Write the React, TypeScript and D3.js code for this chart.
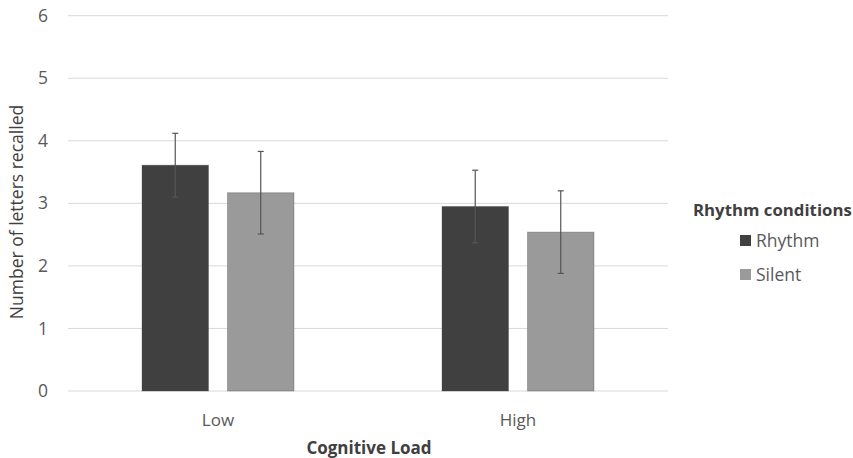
import React from "react";
import * as d3 from "d3";

const categories = ["Low", "High"];
const seriesNames = ["Rhythm", "Silent"];
const rhythmValues = [3.61, 2.95];
const silentValues = [3.17, 2.54];
const rhythmErrors = [0.51, 0.58];
const silentErrors = [0.66, 0.66];
const yTicks = [0, 1, 2, 3, 4, 5, 6];
const colors = ["#404040", "#9a9a9a"];

const W = 853;
const H = 458;
const FONT = "'Open Sans', 'Liberation Sans', sans-serif";

export default function App() {
  const x0 = d3.scaleBand().domain(categories).range([68, 668]).paddingInner(0).paddingOuter(0);
  const innerPad = 74;
  const x1 = d3
    .scaleBand()
    .domain(seriesNames)
    .range([innerPad, x0.bandwidth() - innerPad])
    .paddingInner(0.222);
  const y = d3.scaleLinear().domain([0, 6]).range([391, 15.7]);

  const series = [
    { name: seriesNames[0], values: rhythmValues, errors: rhythmErrors, color: colors[0] },
    { name: seriesNames[1], values: silentValues, errors: silentErrors, color: colors[1] },
  ];

  return (
    <svg width={W} height={H} style={{ position: "absolute", left: 0, top: 0, background: "#fff" }} fontFamily={FONT}>
      <rect width={W} height={H} fill="#ffffff" />
      {yTicks.map((t) => (
        <g key={t}>
          <line x1={68} x2={668} y1={y(t)} y2={y(t)} stroke="#d9d9d9" strokeWidth={1} />
          <text x={43} y={y(t)} dy="0.35em" textAnchor="middle" fontSize={17.5} fill="#595959">
            {t}
          </text>
        </g>
      ))}
      {series.map((s) =>
        categories.map((c, i) => {
          const bx = (x0(c) as number) + (x1(s.name) as number);
          const bw = x1.bandwidth();
          const cx = bx + bw / 2;
          return (
            <g key={s.name + c}>
              <rect x={bx} y={y(s.values[i])} width={bw} height={y(0) - y(s.values[i])} fill={s.color} stroke="#3a3a3a" strokeOpacity={0.3} strokeWidth={1} />
              <line x1={cx} x2={cx} y1={y(s.values[i] + s.errors[i])} y2={y(s.values[i] - s.errors[i])} stroke="#555555" strokeWidth={1.2} />
              <line x1={cx - 3} x2={cx + 3} y1={y(s.values[i] + s.errors[i])} y2={y(s.values[i] + s.errors[i])} stroke="#555555" strokeWidth={1.2} />
              <line x1={cx - 3} x2={cx + 3} y1={y(s.values[i] - s.errors[i])} y2={y(s.values[i] - s.errors[i])} stroke="#555555" strokeWidth={1.2} />
            </g>
          );
        })
      )}
      {categories.map((c) => (
        <text key={c} x={(x0(c) as number) + x0.bandwidth() / 2} y={420} dy="0.35em" textAnchor="middle" fontSize={17} fill="#595959">
          {c}
        </text>
      ))}
      <text x={369} y={448} dy="0.35em" textAnchor="middle" fontSize={17} fontWeight="bold" fill="#404040">
        Cognitive Load
      </text>
      <text transform={`translate(17,212) rotate(-90)`} textAnchor="middle" dy="0.35em" fontSize={17.5} fill="#404040">
        Number of letters recalled
      </text>
      <text x={693} y={210} dy="0.35em" fontSize={16.8} fontWeight="bold" fill="#404040">
        Rhythm conditions
      </text>
      {series.map((s, i) => (
        <g key={s.name}>
          <rect x={740} y={235 + i * 34} width={11} height={11} fill={s.color} />
          <text x={756} y={241 + i * 34} dy="0.35em" fontSize={17.5} fill="#595959">
            {s.name}
          </text>
        </g>
      ))}
    </svg>
  );
}
